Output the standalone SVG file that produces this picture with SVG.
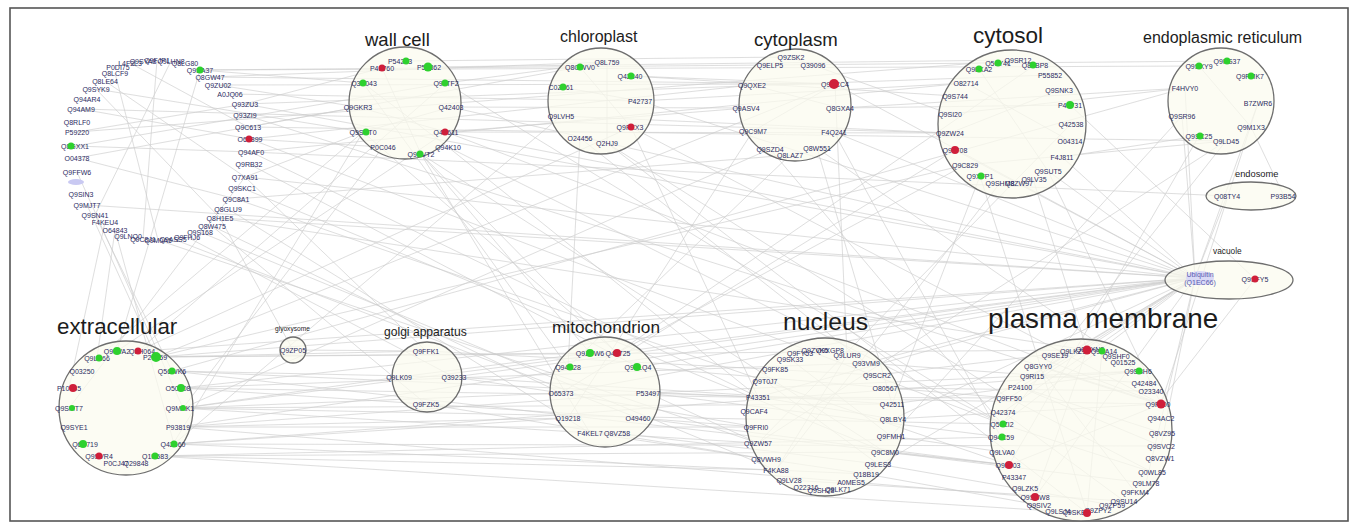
<svg xmlns="http://www.w3.org/2000/svg" width="1358" height="527" viewBox="0 0 1358 527">
<style>
.frame{fill:#fff;stroke:#555;stroke-width:1.6}
.c{fill:#fbfbef;fill-opacity:.72;stroke:#6e6e6e;stroke-width:1.3}
.t{font-family:"Liberation Sans",Arial,sans-serif;fill:#1c1c1c}
.n{font-family:"Liberation Sans",Arial,sans-serif;font-size:7px;fill:#2c2c62;text-anchor:middle;dominant-baseline:central}
.g{fill:#2ed12e}
.r{fill:#cf1f3a}
.e{stroke:#c4c4c4;stroke-width:.65;fill:none;opacity:.85}
</style>
<rect class="frame" x="10" y="8" width="1338" height="513"/>
<g id="connectors" class="e">
<path d="M156 357L590 353M156 357L1087 350M156 357L835 84M156 357L1195 278M172 371L758 397M172 371L1009 465M181 388L638 418M181 388L1161 404M183 408L892 404M183 408L1002 424M178 427L756 427M178 427L1035 497M174 444L568 418M174 444L866 474M155 456L776 470M155 456L1087 513M138 351L446 83M138 351L631 127M117 351L200 70M156 357L426 351M172 371L454 377M181 388L1195 278M183 408L1195 278M174 444L1138 371M155 456L1001 437M156 357L965 165M172 371L1185 88M178 427L648 393"/>
<path d="M200 70L363 83M218 85L358 107M245 104L382 68M248 127L580 67M250 139L752 85M251 152L966 83M245 177L363 132M236 199L790 155M220 218L1195 278M200 70L1199 66M210 77L607 62M218 85L835 84M245 104L1050 75M158 240L758 443M115 230L97 358M87 205L156 357M77 132L245 104M75 146L251 152M96 89L220 218M105 81L245 177M115 73L158 240M81 109L250 139M157 60L143 239M171 61L95 215M77 158L236 199M130 63L248 127M248 127L1226 141M251 152L1227 196M250 139L383 147M245 177L426 351M220 218L293 350M212 226L561 393"/>
<path d="M446 83L607 62M451 107L746 108M446 132L1195 278M448 147L758 397M421 154L617 353M383 147L183 408M363 132L173 444M428 67L1018 60M406 61L790 57M358 107L446 132M363 83L448 147M382 68L421 154M451 107L363 132M446 83L1002 424M421 154L885 452"/>
<path d="M631 76L835 84M640 101L1195 278M631 127L1161 404M561 116L174 444M580 138L568 367M607 143L1087 513M607 62L607 143M561 87L640 101M580 67L631 127M640 101L966 83"/>
<path d="M835 84L847 355M835 84L753 131M835 84L1195 278M840 108L1070 105M753 131L568 418M770 149L183 408M817 148L1138 371M746 108L446 132M790 57L950 114M834 132L1001 437M752 85L840 108"/>
<path d="M955 150L1195 278M950 114L1185 88M1070 105L1255 279M1048 171L1161 404M980 176L892 404M965 165L617 353M1033 179L1087 350M955 96L631 76M1062 157L1199 136M966 83L1070 141M979 69L1048 171M950 133L1059 90M1071 124L758 443M1000 183L776 470"/>
<path d="M1182 116L1195 278M1199 136L1009 465M1251 127L1284 196M1226 141L1002 424M1185 88L840 108M1258 103L1161 404M1199 66L1251 127"/>
<path d="M1195 278L1002 424M1195 278L893 419M1195 278L758 397M1195 278L638 367M1195 278L454 377M1195 278L1032 376M1195 278L1020 387M1195 278L1009 398M1195 278L866 363M1195 278L1035 497M1195 278L1227 196M1195 278L1062 157M1255 279L1158 404"/>
<path d="M758 397L1009 398M892 404L1138 371M866 363L1144 383M756 427L561 393M885 452L1146 483M789 480L1124 501M877 375L1087 350M758 443L648 393M790 359L891 436M765 381L878 464M847 355L776 470M893 419L758 397M1087 350L1035 497M1038 366L1158 404M1161 404L1009 465M1002 424L1152 472M1102 351L1087 513M1020 387L1161 446M638 418L1008 465M590 433L866 474M454 377L561 393M426 404L766 459M399 377L183 408M293 350L426 351M590 353L421 154M617 353L1035 65M648 393L1001 437M568 367L363 83"/>
<path d="M200 70L1227 61M210 77L835 84M230 94L640 101M245 115L1161 404M250 139L1002 424M251 152L758 397M249 164L638 367M245 177L1195 278M242 188L885 452M236 199L1009 465M228 209L590 433M220 218L1087 350M212 226L426 404M200 232L776 470M187 237L454 377M173 239L638 418M115 230L174 444M105 222L69 388M95 215L172 371M87 205L1195 278M77 172L183 408M77 158L358 107M75 146L446 83M77 132L1018 60M81 109L950 133M96 89L363 132"/>
<path d="M178 388L866 363M180 408L758 443M173 444L1161 446M155 456L885 452M142 351L1195 278M117 351L446 132M82 371L363 132M69 408L245 177M451 107L1195 278M446 132L1161 404M448 147L1002 424M421 154L590 433M363 132L617 353M631 127L758 397M580 138L866 363M607 143L1009 398M561 116L950 133M834 132L1195 278M817 148L892 404M790 155L568 367M770 149L1002 424M950 133L446 132M955 150L561 393M1048 171L1195 278M980 176L1087 513M965 165L1226 141M1185 88L1195 278M1182 116L891 436M1226 141L758 443"/>
<path d="M1195 278L561 393M1195 278L178 427M1195 278L245 104M1195 278L851 482M1195 278L1161 446M1195 278L1003 412M1195 278L1146 483M1195 278L1258 103M454 377L892 404M426 351L877 375M399 377L590 353M561 393L183 408M648 393L758 397M638 418L756 427M617 433L878 464M568 418L178 427M638 367L1009 398M648 393L1138 371M891 436L1002 452M885 452L1008 465M866 474L1039 505M878 464L1112 505M893 419L1158 404M885 388L1151 391M1038 366L1135 492M1009 398L1152 472M1003 412L1124 501M1020 387L1162 433"/>
</g>
<g id="unassigned">
<ellipse cx="76" cy="182" rx="8" ry="3" fill="#c9c9f2"/>
<g class="n">
<text x="118" y="67">P0DI75</text><text x="130" y="63">L4F2L3</text><text x="143" y="61">Q9SYA8</text><text x="157" y="60">Q9FJP1</text><text x="171" y="61">Q9LHN8</text><text x="185" y="63">Q8LG80</text><text x="200" y="70">Q9SA37</text>
<text x="210" y="77">Q8GW47</text><text x="218" y="85">Q9ZU02</text><text x="230" y="94">A0JQ06</text><text x="245" y="104">Q93ZU3</text><text x="245" y="115">Q93ZI9</text><text x="248" y="127">Q9C613</text><text x="250" y="139">O64899</text><text x="251" y="152">Q94AF0</text><text x="249" y="164">Q9RB32</text><text x="245" y="177">Q7XA91</text><text x="242" y="188">Q9SKC1</text><text x="236" y="199">Q9C8A1</text><text x="228" y="209">Q8GLU9</text><text x="220" y="218">Q8H1E5</text><text x="212" y="226">Q8W475</text><text x="200" y="232">Q9S168</text>
<text x="187" y="237">Q9FHJ6</text><text x="173" y="239">Q9ASS5</text><text x="158" y="240">Q9M0A5</text><text x="143" y="239">Q9C8J1</text><text x="128" y="236">Q9LNQ0</text>
<text x="115" y="230">O64843</text><text x="105" y="222">F4KEU4</text><text x="95" y="215">Q9SN41</text><text x="87" y="205">Q9MJT7</text><text x="81" y="194">Q9SIN3</text><text x="77" y="172">Q9FFW6</text><text x="77" y="158">O04378</text><text x="75" y="146">Q8GXX1</text><text x="77" y="132">P59220</text><text x="77" y="122">Q8RLF0</text><text x="81" y="109">Q94AM9</text><text x="87" y="99">Q94AR4</text><text x="96" y="89">Q9SYK9</text><text x="105" y="81">Q8LE64</text><text x="115" y="73">Q8LCF9</text>
</g>
<circle class="g" cx="200" cy="70" r="3.5"/><circle class="r" cx="249" cy="139" r="3.5"/><circle class="g" cx="71" cy="146" r="3.5"/>
</g>
<g id="wall-cell">
<circle class="c" cx="405" cy="103" r="56"/>
<text class="t" x="365" y="46" font-size="18.5">wall cell</text>
<g class="n">
<text x="400" y="61">P54223</text><text x="382" y="68">P42760</text><text x="429" y="67">P56862</text><text x="364" y="83">Q3E043</text><text x="446" y="83">Q9LTF2</text><text x="358" y="107">Q9GKR3</text><text x="451" y="107">Q42403</text><text x="363" y="132">Q9SRT0</text><text x="446" y="132">Q4F611</text><text x="383" y="147">P0C046</text><text x="448" y="147">Q94K10</text><text x="421" y="154">Q9SVT2</text>
</g>
<circle class="g" cx="406" cy="61" r="3.5"/><circle class="r" cx="382" cy="68" r="3.5"/><circle class="g" cx="428" cy="67" r="4.5"/><circle class="g" cx="363" cy="83" r="3.5"/><circle class="g" cx="445" cy="83" r="3.5"/><circle class="g" cx="366" cy="132" r="3.5"/><circle class="r" cx="445" cy="132" r="3.5"/><circle class="g" cx="420" cy="154" r="3.5"/>
</g>
<g id="chloroplast">
<circle class="c" cx="601" cy="101" r="53"/>
<text class="t" x="560" y="42" font-size="16">chloroplast</text>
<g class="n">
<text x="580" y="67">Q8GWV0</text><text x="607" y="62">Q8L759</text><text x="630" y="76">Q42340</text><text x="561" y="87">C0Z361</text><text x="640" y="101">P42737</text><text x="561" y="116">Q9LVH5</text><text x="630" y="127">Q9FXX3</text><text x="580" y="138">O24456</text><text x="607" y="143">Q2HJ9</text>
</g>
<circle class="g" cx="580" cy="67" r="3.5"/><circle class="g" cx="631" cy="76" r="3.5"/><circle class="g" cx="563" cy="87" r="3.5"/><circle class="r" cx="631" cy="127" r="3.5"/>
</g>
<g id="cytoplasm">
<circle class="c" cx="795" cy="105" r="56"/>
<text class="t" x="754" y="46" font-size="18.6">cytoplasm</text>
<g class="n">
<text x="791" y="57">Q9ZSK2</text><text x="770" y="65">Q9ELP5</text><text x="813" y="65">Q39096</text><text x="752" y="85">Q9QXE2</text><text x="835" y="84">Q9SCC4</text><text x="746" y="108">Q9ASV4</text><text x="840" y="108">Q8GXA4</text><text x="753" y="131">Q9C9M7</text><text x="834" y="132">F4Q241</text><text x="770" y="149">Q9SZD4</text><text x="790" y="155">Q8LAZ7</text><text x="817" y="148">Q8W551</text>
</g>
<circle class="r" cx="834" cy="84" r="5"/>
</g>
<g id="cytosol">
<circle class="c" cx="1012" cy="124" r="74"/>
<text class="t" x="973" y="43" font-size="22.5">cytosol</text>
<g class="n">
<text x="979" y="69">Q9LKA2</text><text x="998" y="63">Q56Y41</text><text x="1018" y="60">Q9SR12</text><text x="1035" y="65">Q8LBP8</text><text x="966" y="83">O82714</text><text x="1050" y="75">P55852</text><text x="1059" y="90">Q9SNK3</text><text x="955" y="96">Q9S744</text><text x="1070" y="105">P42731</text><text x="950" y="114">Q9SI20</text><text x="1071" y="124">Q42538</text><text x="950" y="133">Q9ZW24</text><text x="1070" y="141">O04314</text><text x="955" y="150">Q9LT08</text><text x="1062" y="157">F4J811</text><text x="965" y="165">Q9C829</text><text x="1048" y="171">Q9SUT5</text><text x="980" y="176">Q9XFP1</text><text x="1000" y="183">Q9SHM8</text><text x="1019" y="183">Q8ZW97</text><text x="1034" y="179">Q9LV35</text>
</g>
<circle class="g" cx="979" cy="69" r="3.5"/><circle class="g" cx="998" cy="63" r="3.5"/><circle class="g" cx="1033" cy="65" r="3.5"/><circle class="g" cx="1070" cy="105" r="4"/><circle class="r" cx="955" cy="150" r="4"/><circle class="g" cx="981" cy="176" r="3.5"/>
</g>
<g id="endoplasmic-reticulum">
<circle class="c" cx="1221" cy="101" r="53"/>
<text class="t" x="1143" y="43" font-size="16">endoplasmic reticulum</text>
<g class="n">
<text x="1199" y="66">Q9SXY9</text><text x="1227" y="61">Q9FG37</text><text x="1250" y="76">Q9FMK7</text><text x="1185" y="88">F4HVY0</text><text x="1258" y="103">B7ZWR6</text><text x="1182" y="116">Q9SR96</text><text x="1251" y="127">Q9M1X3</text><text x="1199" y="136">Q9SC25</text><text x="1226" y="141">Q9LD45</text>
</g>
<circle class="g" cx="1199" cy="66" r="3.5"/><circle class="g" cx="1227" cy="61" r="3.5"/><circle class="g" cx="1251" cy="76" r="3.5"/><circle class="g" cx="1200" cy="136" r="3.5"/>
</g>
<g id="endosome">
<ellipse class="c" cx="1251" cy="196" rx="45" ry="14"/>
<text class="t" x="1235" y="177" font-size="9.3">endosome</text>
<g class="n"><text x="1227" y="196">Q08TY4</text><text x="1283" y="196">P93B54</text></g>
</g>
<g id="vacuole">
<ellipse class="c" cx="1229" cy="280" rx="64" ry="19"/>
<text class="t" x="1213" y="254" font-size="8.3">vacuole</text>
<ellipse cx="1200" cy="278" rx="14" ry="7" fill="#d9d9f6"/>
<g class="n" style="fill:#5a5ab0"><text x="1200" y="274">Ubiquitin</text><text x="1200" y="282">(Q1EC66)</text></g>
<g class="n"><text x="1255" y="279">Q9SFY5</text></g>
<circle class="r" cx="1255" cy="279" r="3.5"/>
</g>
<g id="extracellular">
<circle class="c" cx="126" cy="408" r="67"/>
<text class="t" x="57" y="334" font-size="22.3">extracellular</text>
<g class="n">
<text x="117" y="351">Q9FVA2</text><text x="142" y="351">Q8H064</text><text x="155" y="357">P29459</text><text x="97" y="358">Q9LX66</text><text x="82" y="371">Q03250</text><text x="172" y="371">Q56WK6</text><text x="69" y="388">P10545</text><text x="178" y="388">O50008</text><text x="69" y="408">Q9SMT7</text><text x="180" y="408">Q9MAK1</text><text x="74" y="427">Q9SYE1</text><text x="178" y="427">P93819</text><text x="85" y="444">Q6S719</text><text x="173" y="444">Q42560</text><text x="99" y="456">Q9SVR4</text><text x="155" y="456">Q1H583</text><text x="116" y="463">P0CJ47</text><text x="136" y="463">Q29848</text>
</g>
<circle class="g" cx="117" cy="351" r="4"/><circle class="r" cx="138" cy="351" r="3.5"/><circle class="g" cx="156" cy="357" r="5"/><circle class="g" cx="99" cy="358" r="3.5"/><circle class="g" cx="172" cy="371" r="3.5"/><circle class="r" cx="73" cy="388" r="4"/><circle class="g" cx="181" cy="388" r="4"/><circle class="g" cx="72" cy="408" r="3"/><circle class="g" cx="183" cy="408" r="3"/><circle class="g" cx="83" cy="444" r="4"/><circle class="g" cx="174" cy="444" r="3.5"/><circle class="r" cx="99" cy="456" r="3.5"/><circle class="g" cx="155" cy="456" r="3.5"/>
</g>
<g id="glyoxysome">
<circle class="c" cx="293" cy="350" r="13"/>
<text class="t" x="275" y="331" font-size="6.6">glyoxysome</text>
<g class="n"><text x="293" y="350">Q9ZP05</text></g>
</g>
<g id="golgi-apparatus">
<circle class="c" cx="427" cy="377" r="35"/>
<text class="t" x="384" y="336" font-size="12.1">golgi apparatus</text>
<g class="n"><text x="426" y="351">Q9FFK1</text><text x="399" y="377">Q9LK09</text><text x="454" y="377">Q39233</text><text x="426" y="404">Q9FZK5</text></g>
</g>
<g id="mitochondrion">
<circle class="c" cx="605" cy="392" r="55"/>
<text class="t" x="552" y="333" font-size="17.2">mitochondrion</text>
<g class="n">
<text x="590" y="353">Q9ZTW6</text><text x="618" y="353">Q42725</text><text x="568" y="367">Q94A28</text><text x="638" y="367">Q9FLQ4</text><text x="561" y="393">O65373</text><text x="648" y="393">P53497</text><text x="568" y="418">Q19218</text><text x="638" y="418">O49460</text><text x="590" y="433">F4KEL7</text><text x="617" y="433">Q8VZ58</text>
</g>
<circle class="g" cx="590" cy="353" r="4"/><circle class="r" cx="617" cy="353" r="4"/><circle class="g" cx="570" cy="367" r="3.5"/><circle class="g" cx="637" cy="367" r="4"/>
</g>
<g id="nucleus">
<circle class="c" cx="825" cy="417" r="79"/>
<text class="t" x="783" y="330" font-size="24.7">nucleus</text>
<g class="n">
<text x="800" y="353">Q9FY53</text><text x="815" y="350">Q9ZVK5</text><text x="830" y="350">Q9XGP8</text><text x="847" y="355">Q9LUR9</text><text x="790" y="359">Q9SK33</text><text x="866" y="363">Q93VM9</text><text x="775" y="369">Q9FK85</text><text x="877" y="375">Q9SCR2</text><text x="765" y="381">Q9T0J7</text><text x="885" y="388">O80567</text><text x="758" y="397">P43351</text><text x="892" y="404">Q42511</text><text x="754" y="411">Q9CAF4</text><text x="893" y="419">Q8LBY4</text><text x="756" y="427">Q9FRI0</text><text x="891" y="436">Q9FMH1</text><text x="758" y="443">Q9ZW57</text><text x="885" y="452">Q9C8M0</text><text x="766" y="459">Q8VWH9</text><text x="878" y="464">Q9LES3</text><text x="776" y="470">F4KA88</text><text x="866" y="474">Q18B19</text><text x="789" y="480">Q9LV28</text><text x="851" y="482">A0MES5</text><text x="806" y="487">O22316</text><text x="821" y="490">Q9SH28</text><text x="838" y="489">Q9LK71</text>
</g>
</g>
<g id="plasma-membrane">
<circle class="c" cx="1081" cy="430" r="91"/>
<text class="t" x="988" y="328" font-size="27.8">plasma membrane</text>
<g class="n">
<text x="1055" y="355">Q9SE19</text><text x="1073" y="351">Q9LKZ3</text><text x="1090" y="349">Q8GXN3</text><text x="1104" y="351">Q9SA14</text><text x="1116" y="356">Q9SHF0</text><text x="1038" y="366">Q8GYY0</text><text x="1123" y="362">Q01525</text><text x="1138" y="371">Q9SBH6</text><text x="1032" y="376">Q9RI15</text><text x="1144" y="383">Q42484</text><text x="1020" y="387">P24100</text><text x="1151" y="391">O23340</text><text x="1009" y="398">Q9FF50</text><text x="1158" y="404">Q9FJ00</text><text x="1003" y="412">Q42374</text><text x="1161" y="418">Q94AC2</text><text x="1002" y="424">Q56ZI2</text><text x="1162" y="433">Q8VZ95</text><text x="1001" y="437">Q94C59</text><text x="1161" y="446">Q9SVC2</text><text x="1002" y="452">Q9LVA0</text><text x="1160" y="458">Q8VZW1</text><text x="1008" y="465">Q9FJ03</text><text x="1152" y="472">Q0WL85</text><text x="1014" y="477">P43347</text><text x="1146" y="483">Q9LM78</text><text x="1025" y="488">Q9LZK5</text><text x="1135" y="492">Q9FKM4</text><text x="1035" y="497">Q9SSW8</text><text x="1124" y="501">Q9SU14</text><text x="1039" y="505">Q9SIV2</text><text x="1112" y="505">Q9ZP59</text><text x="1058" y="511">Q9LSJ4</text><text x="1076" y="512">Q9SKB2</text><text x="1098" y="510">Q9ZPY2</text>
</g>
<circle class="r" cx="1087" cy="350" r="4.5"/><circle class="g" cx="1102" cy="351" r="3.5"/><circle class="g" cx="1139" cy="371" r="3.5"/><circle class="r" cx="1161" cy="404" r="4.5"/><circle class="g" cx="1003" cy="424" r="3.5"/><circle class="g" cx="1002" cy="437" r="3.5"/><circle class="r" cx="1009" cy="465" r="4"/><circle class="r" cx="1035" cy="497" r="4"/><circle class="r" cx="1087" cy="513" r="4"/>
</g>
</svg>
